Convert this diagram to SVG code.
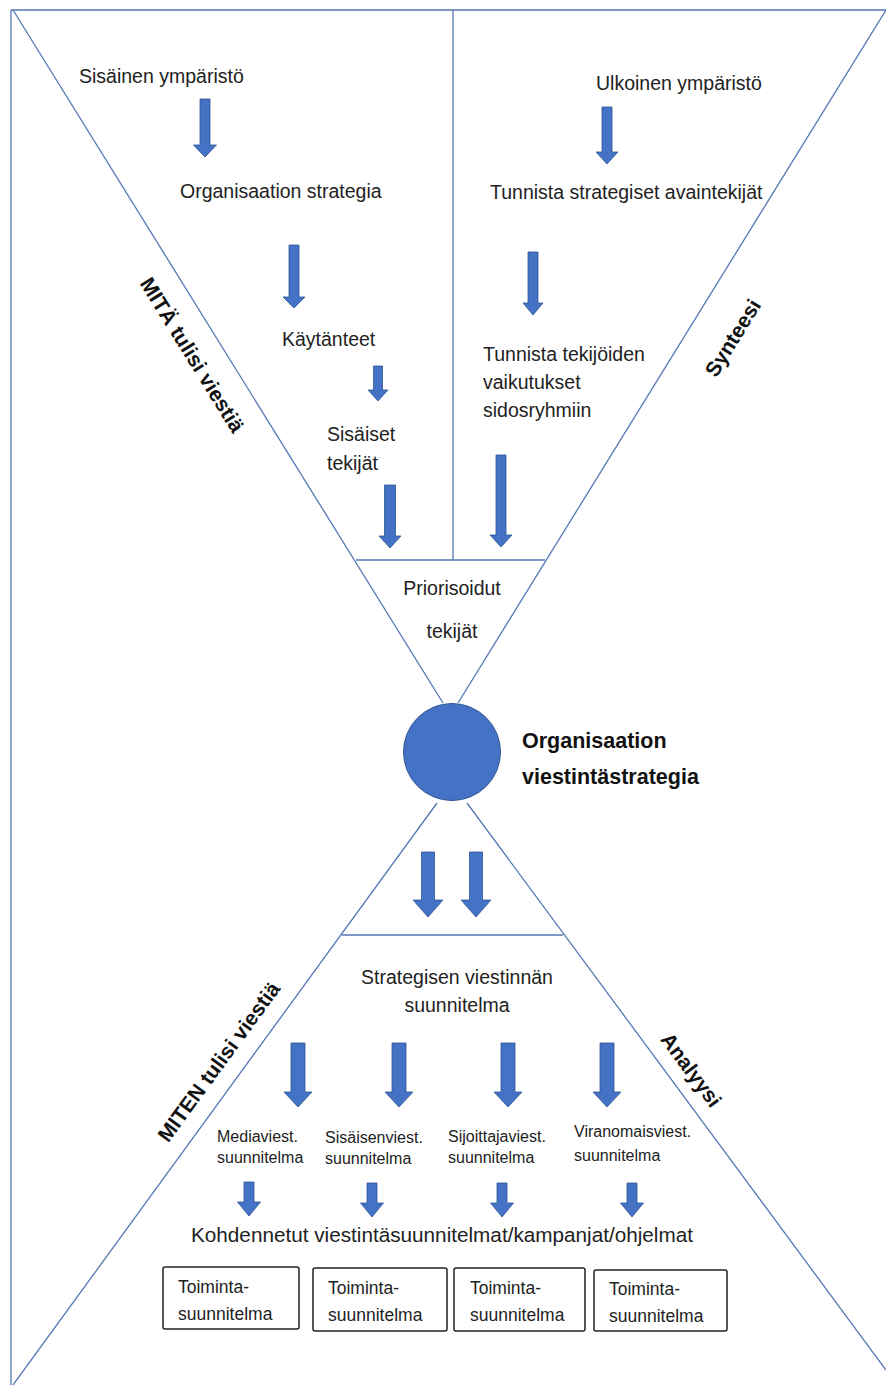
<svg xmlns="http://www.w3.org/2000/svg" width="886" height="1385" viewBox="0 0 886 1385">
<style>
.ln{stroke:#5577b5;stroke-width:1.3;fill:none}
.ar{fill:#4472c4;stroke:#2f5597;stroke-width:0.8}
.t{font-family:"Liberation Sans",Arial,sans-serif;font-size:19.5px;fill:#222}
.s{font-family:"Liberation Sans",Arial,sans-serif;font-size:16px;fill:#222}
.bx{font-family:"Liberation Sans",Arial,sans-serif;font-size:17.5px;fill:#222}
.b{font-family:"Liberation Sans",Arial,sans-serif;font-size:21.5px;font-weight:bold;fill:#111}
.r{font-family:"Liberation Sans",Arial,sans-serif;font-size:21px;font-weight:bold;fill:#111}
.box{fill:#fff;stroke:#222;stroke-width:1.5}
</style>
<rect width="886" height="1385" fill="#fff"/>
<g id="connectors">
<line class="ln" x1="11" y1="10" x2="886" y2="10"/>
<line class="ln" x1="11" y1="10" x2="11" y2="1385"/>
<line class="ln" x1="13" y1="10" x2="443" y2="703"/>
<line class="ln" x1="886" y1="10" x2="458" y2="703"/>
<line class="ln" x1="453" y1="10" x2="453" y2="560"/>
<line class="ln" x1="356" y1="560" x2="545" y2="560"/>
<line class="ln" x1="437" y1="803" x2="13" y2="1385"/>
<line class="ln" x1="467" y1="803" x2="886" y2="1370"/>
<line class="ln" x1="342" y1="935" x2="563" y2="935"/>
<!-- arrows -->
<polygon class="ar" points="200,99 210,99 210,145 216.5,145 205,157 193.5,145 200,145"/>
<polygon class="ar" points="289,245 299,245 299,297 305,297 294,308 283,297 289,297"/>
<polygon class="ar" points="373.5,366 382.5,366 382.5,390 388,390 378,401 368,390 373.5,390"/>
<polygon class="ar" points="384.5,485 395.5,485 395.5,536 401,536 390,548 379,536 384.5,536"/>
<polygon class="ar" points="602,107 612,107 612,152 618,152 607,164 596,152 602,152"/>
<polygon class="ar" points="528,252 538,252 538,303 543,303 533,315 523,303 528,303"/>
<polygon class="ar" points="496,455 506,455 506,535 512,535 501,547 490,535 496,535"/>
<polygon class="ar" points="421.5,852 434.5,852 434.5,900 443,900 428,917 413,900 421.5,900"/>
<polygon class="ar" points="469.5,852 482.5,852 482.5,900 491,900 476,917 461,900 469.5,900"/>
<polygon class="ar" points="291,1043 305,1043 305,1092 312,1092 298,1107 284,1092 291,1092"/>
<polygon class="ar" points="392,1043 406,1043 406,1092 413,1092 399,1107 385,1092 392,1092"/>
<polygon class="ar" points="501,1043 515,1043 515,1092 522,1092 508,1107 494,1092 501,1092"/>
<polygon class="ar" points="600,1043 614,1043 614,1092 621,1092 607,1107 593,1092 600,1092"/>
<polygon class="ar" points="244,1182 254,1182 254,1202 260.5,1202 249,1216 237.5,1202 244,1202"/>
<polygon class="ar" points="367,1183 377,1183 377,1203 383.5,1203 372,1217 360.5,1203 367,1203"/>
<polygon class="ar" points="497,1183 507,1183 507,1203 513.5,1203 502,1217 490.5,1203 497,1203"/>
<polygon class="ar" points="627,1183 637,1183 637,1203 643.5,1203 632,1217 620.5,1203 627,1203"/>
</g>
<g id="sisainen"><text class="t" x="79" y="83">Sisäinen ympäristö</text></g>
<g id="orgstrategia"><text class="t" x="180" y="198">Organisaation strategia</text></g>
<g id="ulkoinen"><text class="t" x="596" y="90">Ulkoinen ympäristö</text></g>
<g id="avaintekijat"><text class="t" x="490" y="199">Tunnista strategiset avaintekijät</text></g>
<g id="kaytanteet"><text class="t" x="282" y="346">Käytänteet</text></g>
<g id="sisaiset"><text class="t" x="327" y="441">Sisäiset</text><text class="t" x="327" y="470">tekijät</text></g>
<g id="vaikutukset"><text class="t" x="483" y="361">Tunnista tekijöiden</text><text class="t" x="483" y="389">vaikutukset</text><text class="t" x="483" y="417">sidosryhmiin</text></g>
<g id="priorisoidut"><text class="t" x="452" y="595" text-anchor="middle">Priorisoidut</text><text class="t" x="452" y="638" text-anchor="middle">tekijät</text></g>
<g id="viestintastrategia">
<circle cx="452" cy="752" r="48.5" fill="#4472c4" stroke="#2f5597" stroke-width="1"/>
<text class="b" x="522" y="748">Organisaation</text><text class="b" x="522" y="784">viestintästrategia</text>
</g>
<g id="mita"><text class="r" transform="translate(192,355) rotate(58.2)" x="0" y="7" text-anchor="middle">MITÄ tulisi viestiä</text></g>
<g id="synteesi"><text class="r" transform="translate(733,338) rotate(-58.2)" x="0" y="7" text-anchor="middle">Synteesi</text></g>
<g id="miten"><text class="r" transform="translate(219,1062) rotate(-53.9)" x="0" y="7" text-anchor="middle">MITEN tulisi viestiä</text></g>
<g id="analyysi"><text class="r" transform="translate(691,1070) rotate(53.5)" x="0" y="7" text-anchor="middle">Analyysi</text></g>
<g id="suunnitelma"><text class="t" x="457" y="984" text-anchor="middle">Strategisen viestinnän</text><text class="t" x="457" y="1012" text-anchor="middle">suunnitelma</text></g>
<g id="media"><text class="s" x="217" y="1142">Mediaviest.</text><text class="s" x="217" y="1163">suunnitelma</text></g>
<g id="sisaisen"><text class="s" x="325" y="1143">Sisäisenviest.</text><text class="s" x="325" y="1164">suunnitelma</text></g>
<g id="sijoittaja"><text class="s" x="448" y="1142">Sijoittajaviest.</text><text class="s" x="448" y="1163">suunnitelma</text></g>
<g id="viranomais"><text class="s" x="574" y="1137">Viranomaisviest.</text><text class="s" x="574" y="1161">suunnitelma</text></g>
<g id="kohdennetut"><text class="t" x="191" y="1242" textLength="502" lengthAdjust="spacingAndGlyphs" style="font-size:20.5px">Kohdennetut viestintäsuunnitelmat/kampanjat/ohjelmat</text></g>
<g id="toiminta1"><rect class="box" x="163" y="1267" width="136" height="62" rx="2"/><text class="bx" x="178" y="1293">Toiminta-</text><text class="bx" x="178" y="1320">suunnitelma</text></g>
<g id="toiminta2"><rect class="box" x="313" y="1268" width="134" height="63" rx="2"/><text class="bx" x="328" y="1294">Toiminta-</text><text class="bx" x="328" y="1321">suunnitelma</text></g>
<g id="toiminta3"><rect class="box" x="454" y="1268" width="131" height="63" rx="2"/><text class="bx" x="470" y="1294">Toiminta-</text><text class="bx" x="470" y="1321">suunnitelma</text></g>
<g id="toiminta4"><rect class="box" x="594" y="1270" width="133" height="61" rx="2"/><text class="bx" x="609" y="1295">Toiminta-</text><text class="bx" x="609" y="1322">suunnitelma</text></g>
</svg>
